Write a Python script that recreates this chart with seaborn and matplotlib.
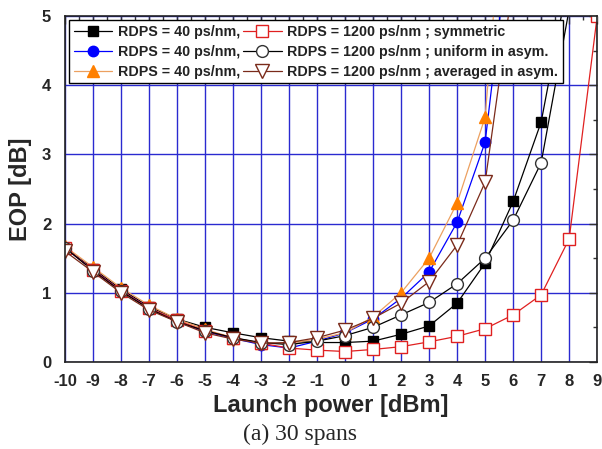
import numpy as np
import pandas as pd
import matplotlib
matplotlib.use("Agg")
import matplotlib.pyplot as plt
from matplotlib.ticker import MultipleLocator
import seaborn as sns

# launch power [dBm]
power = list(range(-10, 10))

# EOP [dB] (values above 5 leave the frame)
eop_40_sym = [1.65, 1.35, 1.05, 0.80, 0.62, 0.50, 0.42, 0.35, 0.30, 0.28,
              0.28, 0.30, 0.40, 0.52, 0.85, 1.43, 2.32, 3.47, 5.60]
eop_40_uni = [1.65, 1.33, 1.03, 0.78, 0.58, 0.44, 0.34, 0.25, 0.20, 0.30,
              0.42, 0.62, 0.92, 1.30, 2.02, 3.18, 6.60]
eop_40_avg = [1.67, 1.37, 1.07, 0.82, 0.62, 0.47, 0.35, 0.27, 0.27, 0.33,
              0.42, 0.65, 1.00, 1.50, 2.30, 3.54, 8.50]
eop_1200_sym = [1.65, 1.33, 1.03, 0.78, 0.60, 0.45, 0.35, 0.27, 0.20, 0.17,
                0.15, 0.18, 0.22, 0.29, 0.37, 0.48, 0.68, 0.97, 1.78, 5.00]
eop_1200_uni = [1.65, 1.32, 1.02, 0.77, 0.58, 0.45, 0.35, 0.28, 0.25, 0.30,
                0.38, 0.50, 0.68, 0.86, 1.13, 1.50, 2.05, 2.88, 5.10]
eop_1200_avg = [1.60, 1.30, 1.00, 0.75, 0.58, 0.42, 0.33, 0.27, 0.28, 0.35,
                0.46, 0.63, 0.85, 1.16, 1.69, 2.60, 5.50]

label_40 = "RDPS = 40 ps/nm,"
label_1200 = ["RDPS = 1200 ps/nm ; symmetric",
              "RDPS = 1200 ps/nm ; uniform in asym.",
              "RDPS = 1200 ps/nm ; averaged in asym."]

series = [
    (eop_40_sym, dict(color="black", marker="s", ms=7.5, mfc="black", mec="black")),
    (eop_40_uni, dict(color="#0000ff", marker="o", ms=7.5, mfc="#0000ff", mec="#0000ff")),
    (eop_40_avg, dict(color="#eca060", marker="^", ms=9, mfc="#ff8000", mec="#ff8000")),
    (eop_1200_sym, dict(color="#e02020", marker="s", ms=8.5, mfc="white", mec="#e02020")),
    (eop_1200_uni, dict(color="black", marker="o", ms=8.5, mfc="white", mec="#333333")),
    (eop_1200_avg, dict(color="#7a2a1a", marker="v", ms=10, mfc="white", mec="#7a2a1a")),
]


def main():
    sns.set_style("white")
    plt.rcParams["font.family"] = ["Liberation Sans", "DejaVu Sans"]
    plt.rcParams["axes.unicode_minus"] = False

    fig, ax = plt.subplots(figsize=(6.02, 4.49), dpi=100)
    fig.subplots_adjust(left=0.108, right=0.992, top=0.964, bottom=0.194)

    handles = []
    for vals, kw in series:
        df = pd.DataFrame({"power": power[:len(vals)], "eop": vals})
        sns.lineplot(data=df, x="power", y="eop", ax=ax, sort=False,
                     lw=0.9, mew=1.0, legend=False, **kw)
        handles.append(ax.lines[-1])

    ax.set_xlim(-10, 9)
    ax.set_ylim(0, 5)
    ax.xaxis.set_major_locator(MultipleLocator(1))
    ax.xaxis.set_minor_locator(MultipleLocator(0.5))
    ax.yaxis.set_major_locator(MultipleLocator(1))
    ax.yaxis.set_minor_locator(MultipleLocator(0.5))
    ax.grid(True, which="major", color="#2a2ad0", lw=1.0)
    ax.set_axisbelow(True)

    ax.tick_params(which="both", direction="in", top=True, right=True,
                   color="#333333", width=1.0)
    ax.tick_params(which="major", length=6)
    ax.tick_params(which="minor", length=3)
    ax.tick_params(axis="x", which="major", pad=9, labelsize=12)
    ax.tick_params(axis="y", which="major", pad=10, labelsize=12)
    for lab in ax.get_xticklabels() + ax.get_yticklabels():
        lab.set_fontweight("bold")
    for sp in ax.spines.values():
        sp.set_color("#222222")
        sp.set_linewidth(1.2)

    ax.set_xlabel("Launch power [dBm]", fontsize=17, fontweight="bold", labelpad=3)
    ax.set_ylabel("EOP [dB]", fontsize=17, fontweight="bold", labelpad=7)

    labels = [label_40] * 3 + label_1200
    leg = ax.legend(handles, labels, ncol=2, loc="upper left",
                    bbox_to_anchor=(0.0, 1.0), borderaxespad=0.3,
                    fancybox=False, framealpha=1, edgecolor="black",
                    prop={"size": 10.3, "weight": "bold"}, handlelength=2.7,
                    handletextpad=0.4, columnspacing=0.2, labelspacing=0.42,
                    borderpad=0.3)
    leg.get_frame().set_linewidth(1.0)
    leg.set_zorder(10)
    for t in leg.get_texts():
        t.set_color("#222222")

    fig.text(0.498, 0.033, "(a) 30 spans", ha="center", va="center",
             fontsize=17, family="Liberation Serif")

    plt.savefig("out.png", dpi=100)
    plt.close()


if __name__ == "__main__":
    main()
